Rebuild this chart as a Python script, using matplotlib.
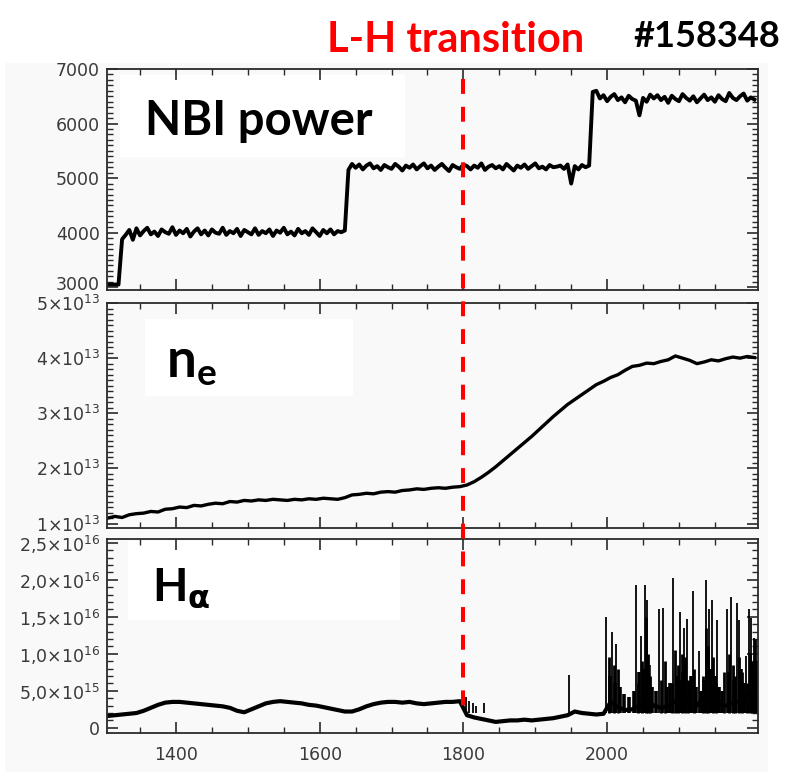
"""
DIII-D shot #158348: NBI power, line density and H-alpha across the L-H transition
"""

import numpy as np
import matplotlib
matplotlib.use('Agg')
import matplotlib.pyplot as plt
import matplotlib.transforms as mtransforms
from matplotlib.lines import Line2D
from matplotlib.patches import Rectangle
from matplotlib.ticker import FixedLocator

# ---------------------------------------------------------------- data
lh_time = 1800  # ms

# NBI power, sampled every 5 ms from 1305 to 2205
t_nbi = np.arange(1305, 2206, 5)
nbi_power = [3050, 3050, 3050, 3050,
             3880,
             3960, 4050, 3870, 4080, 3950, 4030, 4090, 3970, 4020, 3940,
             4060, 4010, 3980, 4100, 3960, 4040, 3990, 4070, 3930, 4020,
             4080, 3970, 4040, 3950, 4060, 4000, 3980, 4090, 3960, 4030,
             3990, 4070, 3940, 4050, 4010, 3970, 4080, 3960, 4030, 3990,
             4060, 3940, 4040, 4000, 4090, 3970, 4020, 3950, 4070, 3990,
             4030, 3960, 4080, 4010, 3940, 4050, 3990, 4060, 3970, 4030,
             4010, 4040,
             5150, 5260,
             5190, 5250, 5160, 5230, 5270, 5180, 5220, 5150, 5240, 5200,
             5170, 5260, 5210, 5140, 5230, 5190, 5250, 5160, 5220, 5270,
             5180, 5230, 5150, 5210, 5260, 5190, 5130, 5240, 5200, 5170,
             5250, 5220, 5160, 5230, 5190, 5270, 5150, 5210, 5240, 5180,
             5220, 5160, 5260, 5200, 5140, 5230, 5190, 5250, 5170, 5220,
             5270, 5180, 5210, 5160, 5240, 5200, 5210, 5230, 5170, 5250,
             4900, 5220, 5160, 5240, 5200, 5230,
             6580, 6600,
             6460, 6520, 6410, 6490, 6540, 6430, 6480, 6390, 6510, 6450,
             6420, 6150, 6470, 6400, 6530, 6460, 6520, 6430, 6490, 6380,
             6510, 6450, 6410, 6540, 6470, 6420, 6500, 6390, 6460, 6530,
             6430, 6480, 6400, 6520, 6450, 6410, 6560, 6470, 6430, 6500,
             6550, 6420, 6480, 6440]

# line averaged density (1e13 cm^-3), every 10 ms from 1305 to 2205
t_ne = np.arange(1305, 2206, 10)
ne_dens = [1.10, 1.13, 1.11, 1.16, 1.18, 1.19, 1.22, 1.21, 1.26, 1.27,
           1.30, 1.29, 1.33, 1.32, 1.35, 1.37, 1.36, 1.40, 1.39, 1.42,
           1.41, 1.43, 1.42, 1.44, 1.43, 1.42, 1.44, 1.43, 1.45, 1.44,
           1.46, 1.45, 1.44, 1.47, 1.52, 1.53, 1.55, 1.54, 1.57, 1.58,
           1.57, 1.60, 1.61, 1.63, 1.62, 1.64, 1.65, 1.64, 1.66, 1.67,
           1.70, 1.76, 1.84, 1.93, 2.03, 2.14, 2.25, 2.36, 2.47, 2.58,
           2.70, 2.82, 2.94, 3.05, 3.16, 3.25, 3.34, 3.43, 3.52, 3.58,
           3.65, 3.70, 3.78, 3.85, 3.87, 3.91, 3.90, 3.94, 3.97, 4.04,
           4.00, 3.96, 3.90, 3.93, 3.97, 3.95, 3.99, 4.02, 4.00, 4.03,
           4.01]

# H-alpha baseline (1e16), every 10 ms from 1305 to 2205
t_ha = np.arange(1305, 2206, 10)
h_alpha = [0.16, 0.17, 0.18, 0.19, 0.20, 0.23, 0.27, 0.31, 0.34, 0.35,
           0.35, 0.34, 0.33, 0.32, 0.31, 0.30, 0.29, 0.27, 0.23, 0.21,
           0.25, 0.29, 0.33, 0.35, 0.36, 0.35, 0.34, 0.33, 0.31, 0.30,
           0.28, 0.26, 0.24, 0.22, 0.22, 0.25, 0.29, 0.32, 0.34, 0.35,
           0.35, 0.34, 0.35, 0.33, 0.32, 0.33, 0.34, 0.35, 0.35, 0.36,
           0.17, 0.14, 0.12, 0.10, 0.08, 0.09, 0.10, 0.10, 0.11, 0.10,
           0.11, 0.12, 0.13, 0.15, 0.17, 0.22, 0.20, 0.19, 0.18, 0.19,
           0.35, 0.28, 0.24, 0.25, 0.30, 0.38, 0.30, 0.27, 0.29, 0.36,
           0.40, 0.33, 0.30, 0.42, 0.38, 0.32, 0.30, 0.34, 0.36, 0.45,
           0.48]

# ELM spikes (time, peak in 1e16)
elm_t = [1803, 1808, 1813, 1818, 1829, 1947, 1999, 2007, 2012, 2040, 2047,
         2053, 2055, 2072, 2078, 2092, 2102, 2107, 2111, 2119, 2128, 2137,
         2142, 2146, 2153, 2167, 2172, 2181, 2184, 2193, 2197, 2200, 2204]
elm_peak = [0.42, 0.36, 0.33, 0.30, 0.33, 0.71, 1.49, 1.29, 1.13, 1.93, 1.24,
            1.93, 1.73, 1.61, 1.62, 2.03, 1.56, 1.35, 1.47, 1.85, 1.04, 2.00,
            1.61, 1.72, 1.45, 1.60, 1.76, 1.68, 1.45, 0.97, 1.61, 1.48, 1.21]
# smaller spikes in between the big ones
elm2_t = [2002, 2009, 2015, 2043, 2049, 2054, 2057, 2060, 2075, 2080, 2090,
          2095, 2099, 2104, 2109, 2113, 2121, 2133, 2138, 2140, 2148, 2151,
          2163, 2170, 2175, 2178, 2183, 2188, 2195, 2199, 2202, 2206]
elm2_peak = [0.95, 0.85, 0.80, 0.60, 0.90, 1.50, 1.00, 0.70, 0.65, 0.90, 0.60,
             1.05, 0.85, 1.00, 0.95, 0.65, 0.80, 0.70, 1.35, 1.10, 0.95, 0.60,
             0.75, 1.00, 0.85, 0.70, 0.95, 0.75, 0.60, 1.00, 0.90, 1.20]
# decay tails / small bursts making the dense band
elm3_t = [2004, 2011, 2018, 2024, 2031, 2037, 2045, 2051, 2058, 2063, 2068,
          2083, 2087, 2097, 2101, 2106, 2115, 2117, 2124, 2131, 2135, 2144,
          2150, 2156, 2160, 2169, 2177, 2186, 2190, 2201, 2208]
elm3_peak = [0.70, 0.60, 0.55, 0.45, 0.42, 0.50, 0.75, 0.80, 0.85, 0.55, 0.50,
             0.55, 0.60, 0.70, 0.65, 0.75, 0.60, 0.70, 0.55, 0.50, 0.65, 0.80,
             0.70, 0.55, 0.50, 0.75, 0.65, 0.80, 0.60, 0.85, 0.90]
spike_base = 0.2

time_major = [1400, 1600, 1800, 2000]
time_minor = [1350, 1450, 1500, 1550, 1650, 1700, 1750, 1850, 1900, 1950,
              2050, 2100, 2150]
nbi_ticks = [3000, 4000, 5000, 6000, 7000]
ne_ticks = [1e13, 2e13, 3e13, 4e13, 5e13]
ne_ticklabels = [r'$1{\times}10^{13}$', r'$2{\times}10^{13}$', r'$3{\times}10^{13}$',
                 r'$4{\times}10^{13}$', r'$5{\times}10^{13}$']
ha_ticks = [0, 0.5e16, 1.0e16, 1.5e16, 2.0e16, 2.5e16]
ha_ticklabels = ['0', r'$5{,}0{\times}10^{15}$', r'$1{,}0{\times}10^{16}$',
                 r'$1{,}5{\times}10^{16}$', r'$2{,}0{\times}10^{16}$',
                 r'$2{,}5{\times}10^{16}$']

# ---------------------------------------------------------------- figure
W, H = 789., 772.
LABEL_FONT = ['Lato', 'DejaVu Sans']
plt.rcParams['mathtext.fontset'] = 'dejavusans'
plt.rcParams['mathtext.rm'] = 'Lato'
plt.rcParams['mathtext.bf'] = 'Lato:bold'
plt.rcParams['mathtext.it'] = 'DejaVu Sans:bold'

def fbox(l, t, r, b):
    # pixel box -> figure fraction [left, bottom, width, height]
    return [l/W, 1-b/H, (r-l)/W, (b-t)/H]

fig = plt.figure(figsize=(W/100, H/100), dpi=100)
fig.patch.set_facecolor('white')

# light grey plot sheet and white label boxes behind the axes
fig.add_artist(Rectangle((5/W, 0), 763/W, 1-63/H, transform=fig.transFigure,
                         facecolor='#f9f9f9', edgecolor='none', zorder=-3))
for l, t, r, b in [(120, 75, 405, 157), (145, 319, 353, 396), (128, 541, 400, 620)]:
    fig.add_artist(Rectangle((l/W, 1-b/H), (r-l)/W, (b-t)/H, transform=fig.transFigure,
                             facecolor='white', edgecolor='none', zorder=-2))

ax1 = fig.add_axes(fbox(107, 69, 758, 290))
ax2 = fig.add_axes(fbox(107, 303, 758, 528), sharex=ax1)
ax3 = fig.add_axes(fbox(107, 539, 758, 733), sharex=ax1)

ax1.plot(t_nbi, nbi_power, color='k', lw=2.8)
ax2.plot(t_ne, np.array(ne_dens)*1e13, color='k', lw=2.4)
ax3.plot(t_ha, np.array(h_alpha)*1e16, color='k', lw=3.0)
ax3.vlines(elm_t, spike_base*1e16, np.array(elm_peak)*1e16, color='k', lw=1.3)
ax3.vlines(elm2_t, spike_base*1e16, np.array(elm2_peak)*1e16, color='k', lw=2.0)
ax3.vlines(elm3_t, spike_base*1e16, np.array(elm3_peak)*1e16, color='k', lw=2.6)

ax1.set_xlim(1304, 2210)
ax1.set_ylim(2950, 7000)
ax2.set_ylim(0.92e13, 5.0e13)
ax3.set_ylim(-0.07e16, 2.55e16)

ax1.set_yticks(nbi_ticks)
ax2.set_yticks(ne_ticks)
ax2.set_yticklabels(ne_ticklabels)
ax3.set_yticks(ha_ticks)
ax3.set_yticklabels(ha_ticklabels)

ax1.yaxis.set_minor_locator(FixedLocator(np.arange(3000, 7001, 100)))
ax2.yaxis.set_minor_locator(FixedLocator(np.arange(1e13, 5.01e13, 1e12)))
ax3.yaxis.set_minor_locator(FixedLocator(np.arange(0, 2.51e16, 1e15)))

for ax in [ax1, ax2, ax3]:
    ax.set_facecolor('none')
    for s in ax.spines.values():
        s.set_color('#2a2a2a')
        s.set_linewidth(1.3)
    ax.xaxis.set_major_locator(FixedLocator(time_major))
    ax.xaxis.set_minor_locator(FixedLocator(time_minor))
    ax.tick_params(which='both', direction='in', top=True, right=True,
                   colors='#2a2a2a', labelcolor='#3a3a3a', labelsize=12.5, pad=5)
    ax.tick_params(which='major', length=8, width=1.2)
    ax.tick_params(which='minor', length=4, width=1.0)
ax1.tick_params(labelbottom=False)
ax2.tick_params(labelbottom=False)
ax3.tick_params(axis='x', pad=9)

# lift the lowest NBI label a little so it clears the 5x10^13 label below
lift = mtransforms.ScaledTranslation(0, 3/72, fig.dpi_scale_trans)
lowest = ax1.get_yticklabels()[0]
lowest.set_transform(lowest.get_transform() + lift)

# L-H transition marker across all panels
trans = mtransforms.blended_transform_factory(ax3.transData, fig.transFigure)
fig.add_artist(Line2D([lh_time, lh_time], [1-79/H, 1-710/H], transform=trans,
                      color='#ff0000', lw=2.9, linestyle=(0, (3.7, 3.2)), zorder=5))

# labels
fig.text(145/W, 1-135/H, 'NBI power', fontsize=34, fontweight='bold', family=LABEL_FONT)
fig.text(166/W, 1-377/H, r'$\mathbf{n}_{\mathbf{e}}$', fontsize=38,
         math_fontfamily='custom')
fig.text(152/W, 1-600/H, r'$\mathbf{H}_{\alpha}$', fontsize=33,
         math_fontfamily='custom')
fig.text(327/W, 1-52/H, 'L-H transition', fontsize=30, fontweight='bold',
         color='#ff0000', family=LABEL_FONT)
fig.text(633/W, 1-47/H, '#158348', fontsize=26, fontweight='bold', family=LABEL_FONT)

fig.savefig('out.png', dpi=100, facecolor=fig.get_facecolor())
plt.close(fig)
